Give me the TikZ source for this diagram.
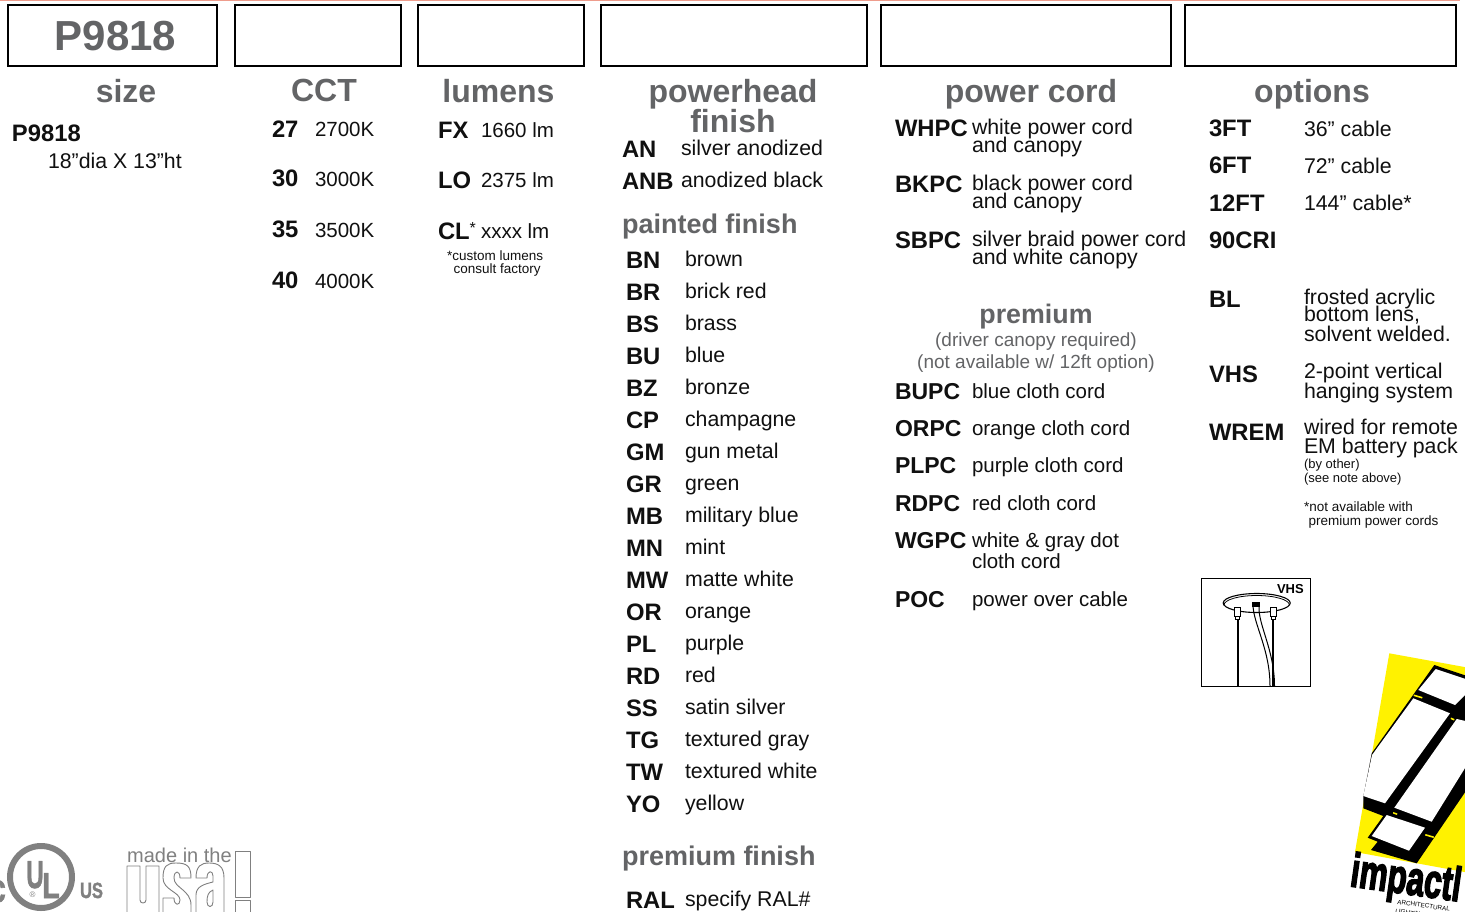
\documentclass[tikz,border=0pt]{standalone}
\usepackage{fontspec}
\setmainfont{Liberation Sans}
\newfontfamily\heavyfont[UprightFont={* Bold},FakeBold=3.5]{Liberation Sans}
\newfontfamily\semifont[UprightFont={* Bold},FakeBold=1.5]{Liberation Sans}
\newcounter{tn}
\definecolor{hd}{HTML}{636466}
\definecolor{ink}{HTML}{101010}
\definecolor{yel}{HTML}{FFF200}
\definecolor{lg}{HTML}{808080}
\definecolor{toprule}{HTML}{EE9C8C}
\newcommand{\B}[3]{\stepcounter{tn}\node[txt,name=t\thetn] at (#1,#2) {\fontsize{23.8}{24}\selectfont\bfseries #3};}
\newcommand{\Bn}[3]{\stepcounter{tn}\node[txt,name=t\thetn] at (#1,#2) {\fontsize{23}{24}\selectfont\bfseries #3};}
\newcommand{\R}[3]{\stepcounter{tn}\node[txt,name=t\thetn] at (#1,#2) {\fontsize{21.3}{24}\selectfont #3};}
\newcommand{\Rn}[3]{\stepcounter{tn}\node[txt,name=t\thetn] at (#1,#2) {\fontsize{20.5}{24}\selectfont #3};}
\newcommand{\Sm}[4]{\stepcounter{tn}\node[txt,name=t\thetn] at (#1,#2) {\fontsize{#3}{#3}\selectfont #4};}
\newcommand{\Hd}[4]{\stepcounter{tn}\node[txt,anchor=base,text=hd,name=t\thetn] at (#1,#2) {\fontsize{#3}{#3}\selectfont\bfseries #4};}
\tikzset{
  txt/.style={inner sep=0pt,outer sep=0pt,anchor=base west,text=ink},
  hbox/.style={draw=black,line width=2pt,fill=white},
  gline/.style={draw=lg,line width=0.9pt,line join=round},
  ullbl/.style={inner sep=0pt,text=lg,anchor=base},
}
\begin{document}
\begin{tikzpicture}[x=1pt,y=-1pt]
\useasboundingbox (0,0) rectangle (1465,911);
\fill[white] (0,0) rectangle (1465,911);
\fill[toprule] (0,0) rectangle (1460,1.3);
% header boxes
\draw[hbox] (8,5) rectangle (217,66);
\draw[hbox] (235,5) rectangle (401,66);
\draw[hbox] (418,5) rectangle (584,66);
\draw[hbox] (601,5) rectangle (867,66);
\draw[hbox] (881,5) rectangle (1171,66);
\draw[hbox] (1185,5) rectangle (1456,66);
\Hd{115.5}{50.5}{42}{P9818}
% headers
\Hd{126}{102}{32}{size}
\Hd{324}{101.5}{32}{CCT}
\Hd{498.5}{102}{32}{lumens}
\Hd{733}{102}{32}{powerhead}
\Hd{733}{132}{32}{finish}
\Hd{1031}{102}{32}{power cord}
\Hd{1312}{102}{32}{options}
% size
\B{12}{141}{P9818}
\R{48}{168}{18”dia X 13”ht}
% CCT
\B{272}{137}{27}\Rn{315}{136}{2700K}
\B{272}{186.5}{30}\Rn{315}{186}{3000K}
\B{272}{237.5}{35}\Rn{315}{237}{3500K}
\B{272}{288.5}{40}\Rn{315}{288}{4000K}
% lumens
\B{438}{138}{FX}\Rn{481}{137}{1660 lm}
\B{438}{188}{LO}\Rn{481}{187}{2375 lm}
\B{438}{239}{CL\raisebox{6pt}{\fontsize{16}{16}\selectfont\mdseries *}}\Rn{481}{238}{xxxx lm}
\Sm{447}{260}{13.5}{*custom lumens}
\Sm{453.5}{273}{13.5}{consult factory}
% powerhead
\B{622}{157}{AN}\R{681}{155}{silver anodized}
\B{622}{189}{ANB}\R{681}{187}{anodized black}
\stepcounter{tn}\node[txt,text=hd,name=t\thetn] at (622,233) {\fontsize{27}{28}\selectfont\bfseries painted finish};
\foreach \c/\n [count=\i from 0] in {BN/brown,BR/brick red,BS/brass,BU/blue,BZ/bronze,CP/champagne,GM/gun metal,GR/green,MB/military blue,MN/mint,MW/matte white,OR/orange,PL/purple,RD/red,SS/satin silver,TG/textured gray,TW/textured white,YO/yellow}{
  \pgfmathsetmacro\yy{268+32*\i}
  \node[txt,name=pc\i] at (626,\yy) {\fontsize{23.8}{24}\selectfont\bfseries \c};
  \node[txt,name=pn\i] at (685,\yy-2) {\fontsize{21.3}{24}\selectfont \n};
}
\stepcounter{tn}\node[txt,text=hd,name=t\thetn] at (622,865) {\fontsize{27}{28}\selectfont\bfseries premium finish};
\B{626}{908}{RAL}\R{685}{906}{specify RAL\#}
% power cord
\B{895}{136}{WHPC}\R{972}{134}{white power cord}\R{972}{152}{and canopy}
\B{895}{192}{BKPC}\R{972}{190}{black power cord}\R{972}{208}{and canopy}
\B{895}{248}{SBPC}\R{972}{246}{silver braid power cord}\R{972}{264}{and white canopy}
\Hd{1036}{323}{26.8}{premium}
\stepcounter{tn}\node[txt,anchor=base,text=hd,name=t\thetn] at (1036,346) {\fontsize{19}{20}\selectfont (driver canopy required)};
\stepcounter{tn}\node[txt,anchor=base,text=hd,name=t\thetn] at (1036,368) {\fontsize{19}{20}\selectfont (not available w/ 12ft option)};
\Bn{895}{399.5}{BUPC}\Rn{972}{398}{blue cloth cord}
\Bn{895}{436.5}{ORPC}\Rn{972}{435}{orange cloth cord}
\Bn{895}{473.5}{PLPC}\Rn{972}{472}{purple cloth cord}
\Bn{895}{511.5}{RDPC}\Rn{972}{510}{red cloth cord}
\Bn{895}{548.5}{WGPC}\Rn{972}{547}{white \& gray dot}\Rn{972}{568}{cloth cord}
\Bn{895}{607.5}{POC}\Rn{972}{606}{power over cable}
% options
\B{1209}{136}{3FT}\R{1304}{136}{36” cable}
\B{1209}{173.5}{6FT}\R{1304}{173.5}{72” cable}
\B{1209}{211}{12FT}\R{1304}{210.5}{144” cable*}
\B{1209}{248}{90CRI}
\B{1209}{307}{BL}\R{1304}{304}{frosted acrylic}\R{1304}{321}{bottom lens,}\R{1304}{341}{solvent welded.}
\B{1209}{382}{VHS}\R{1304}{378}{2-point vertical}\R{1304}{398}{hanging system}
\B{1209}{440}{WREM}\R{1304}{434}{wired for remote}\R{1304}{453}{EM battery pack}
\Sm{1304}{468}{13}{(by other)}
\Sm{1304}{482}{13}{(see note above)}
\Sm{1304}{511}{13.5}{*not available with}
\Sm{1308.5}{525}{13.5}{premium power cords}
% VHS icon
\draw[black,line width=1.2pt] (1201.5,578.5) rectangle (1310.5,686.5);
\node[txt,name=vhslbl,text=black] at (1277,593) {\fontsize{13}{13}\selectfont\bfseries VHS};
\draw[black,line width=1.1pt] (1256.7,603) ellipse [x radius=33.5,y radius=9.5];
\draw[black,line width=0.8pt] (1224,605) arc[start angle=180,end angle=360,x radius=32.7,y radius=9.5];
\foreach \xx in {1237.7,1273}{
  \draw[black,line width=0.9pt,fill=white] (\xx-3,607) rectangle (\xx+3,616);
  \draw[black,line width=0.9pt,fill=white] (\xx-2,616) rectangle (\xx+2,619);
  \draw[black,line width=2pt] (\xx,619) -- (\xx,686);
}
\fill[black] (1252,602) rectangle (1260,606.5);
\draw[black,line width=1pt] (1253,606) .. controls (1254,625) and (1270,650) .. (1270,686);
\draw[black,line width=1pt] (1259,606) .. controls (1258,625) and (1274.5,650) .. (1274.5,686);
% UL logo
\draw[lg,line width=6pt] (41,877) circle (31);
\node[ullbl,name=ulU,xscale=0.62] at (35,888) {\fontsize{39}{39}\selectfont\semifont U};
\node[ullbl,name=ulL,xscale=0.8] at (51,898) {\fontsize{36}{36}\selectfont\semifont L};
\node[ullbl,name=ulR] at (32.5,897) {\fontsize{8}{8}\selectfont ®};
\node[ullbl,name=ulc,xscale=0.7] at (-2,902) {\fontsize{40}{40}\selectfont\semifont c};
\node[ullbl,name=ulus,xscale=0.75] at (91.5,898) {\fontsize{22}{22}\selectfont\semifont US};
% made in the usa!
\node[inner sep=0pt,name=madein,text=lg,anchor=base west] at (127,862) {\fontsize{20}{20}\selectfont made in the};
\begin{scope}
\clip (120,840) rectangle (260,911);
% u
\draw[gline] (127,866) -- (140,866) -- (140,900) .. controls (140,904) and (146,904) .. (146,900) -- (146,866) -- (159,866) -- (159,916) -- (127,916) -- cycle;
% s
\draw[gline] (163,878) .. controls (163,866) and (167,863) .. (176,863) .. controls (187,863) and (191,866) .. (191,878) -- (180,878) .. controls (180,870) and (174,870) .. (174,878) .. controls (174,888) and (191,890) .. (191,905) -- (191,916) -- (163,916) -- (163,898) -- (174,898) .. controls (174,906) and (180,906) .. (180,900) .. controls (180,892) and (163,890) .. (163,878) -- cycle;
% a
\draw[gline] (196,878) .. controls (196,866) and (201,863) .. (209,863) .. controls (218,863) and (224,866) .. (224,878) -- (224,916) -- (196,916) -- (196,895) .. controls (196,886) and (205,884) .. (213,882) -- (213,876) .. controls (213,870) and (207,870) .. (207,878) -- cycle;
\draw[gline] (213,890) .. controls (208,892) and (207,896) .. (207,902) .. controls (207,908) and (213,908) .. (213,902) -- cycle;
% !
\draw[gline] (235,851) -- (250,851) -- (250,897) -- (235,897) -- cycle;
\draw[gline] (235,900) -- (250,900) -- (250,916) -- (235,916) -- cycle;
\end{scope}
% impact logo
\begin{scope}
\clip (1335,645) rectangle (1465,911);
\fill[yel] (1389.3,653.3) -- (1470,668) -- (1470,873) -- (1355,852) -- cycle;
\fill[black] (1434.3,665) -- (1470,677) -- (1470,785) -- (1416.7,863.3) -- (1371,850) -- (1377.7,841.7) -- (1367.7,837.7) -- (1383.3,816) -- (1363.3,808.3) -- (1363.3,796.7) -- (1371.7,753.3) -- cycle;
\fill[white] (1435.7,669) -- (1470,680.5) -- (1470,690) -- (1455,705) -- (1418.3,690) -- cycle;
\fill[white] (1413.3,698.3) -- (1450,713.3) -- (1385,803.3) -- (1363.3,796) -- (1372,755) -- cycle;
\fill[white] (1456.7,719) -- (1470,722) -- (1470,760) -- (1431.7,821.7) -- (1394.3,807.7) -- cycle;
\fill[white] (1386.7,815) -- (1425,827.7) -- (1409,850.7) -- (1371.7,836) -- cycle;
\fill[yel] (1414,694.5) -- (1422.5,697) -- (1422,698.5) -- (1413.5,696) -- cycle;
\fill[yel] (1451,717.5) -- (1454.5,719) -- (1454,720.5) -- (1450.5,719) -- cycle;
\fill[yel] (1393.3,812) -- (1397.3,813.5) -- (1397,815) -- (1393,813.5) -- cycle;
\fill[yel] (1425.5,834) -- (1434,836.5) -- (1433.5,838) -- (1425,835.5) -- cycle;
\node[inner sep=0pt,anchor=base west,rotate=-8,name=impactword,text=black,xscale=0.66] at (1349,886) {\fontsize{48}{48}\selectfont\heavyfont impactl};
\node[inner sep=0pt,anchor=base west,rotate=-8,name=arch,text=black] at (1397,904) {\fontsize{6.3}{6.3}\selectfont ARCHITECTURAL};
\node[inner sep=0pt,anchor=base west,rotate=-8,name=lighting,text=black] at (1395,913) {\fontsize{6.3}{6.3}\selectfont LIGHTING};
\end{scope}
\end{tikzpicture}
\end{document}
